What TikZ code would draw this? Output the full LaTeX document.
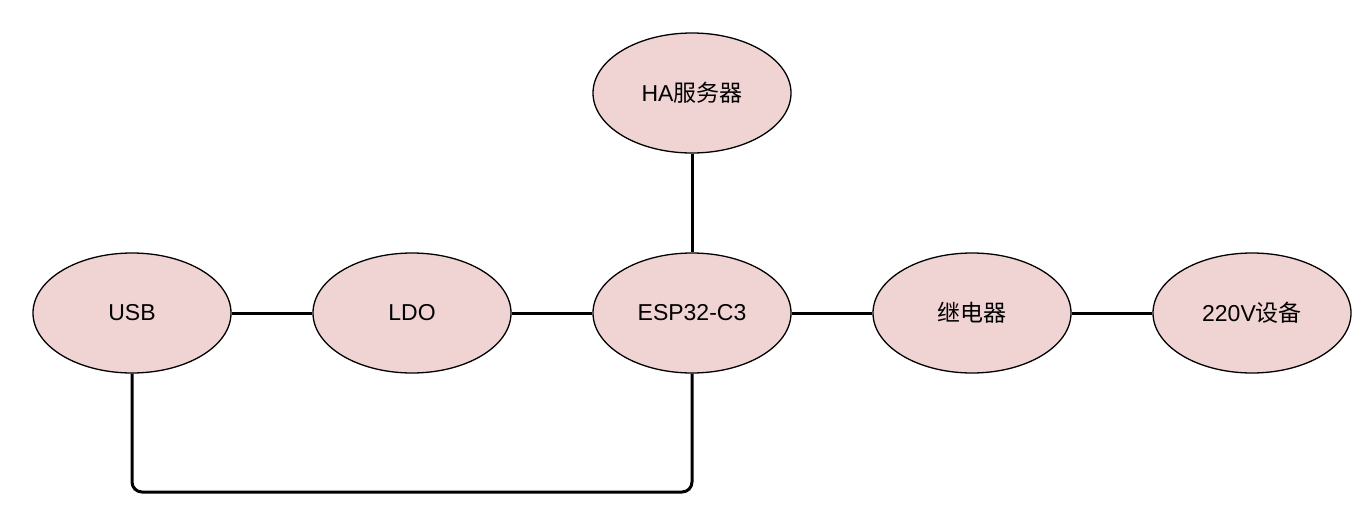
\documentclass[tikz,border=0pt]{standalone}
\usepackage{fontspec}
\setmainfont{Liberation Sans}
\newfontfamily\cjk{Noto Sans CJK SC}
\usetikzlibrary{shapes.geometric}
\definecolor{nodefill}{HTML}{F0D3D3}
\begin{document}
\begin{tikzpicture}
    [
    x=1pt,y=-1pt,
    block/.style={ellipse,draw,line width=1.3pt,fill=nodefill,inner sep=0pt,minimum width=198pt,minimum height=120pt,font=\fontsize{23}{27}\selectfont},
    wire/.style={line width=3pt}
    ]
    \useasboundingbox (0,0) rectangle (1368,512);
    \node (usb) at (132,313) [block] {USB};
    \node (ldo) at (412,313) [block] {LDO};
    \node (esp) at (692,313) [block] {ESP32-C3};
    \node (relay) at (972,313) [block] {{\cjk 继电器}};
    \node (load) at (1252,313) [block] {220V{\cjk 设备}};
    \node (ha) at (692,93) [block] {HA{\cjk 服务器}};
    \coordinate (bend) at (132,492);
    \draw [wire] (usb) to (ldo);
    \draw [wire] (ldo) to (esp);
    \draw [wire] (esp) to (relay);
    \draw [wire] (relay) to (load);
    \draw [wire] (ha) to (esp);
    \draw [wire,rounded corners=10pt] (usb.south) -- (bend) -| (esp.south);
  \end{tikzpicture}
\end{document}
